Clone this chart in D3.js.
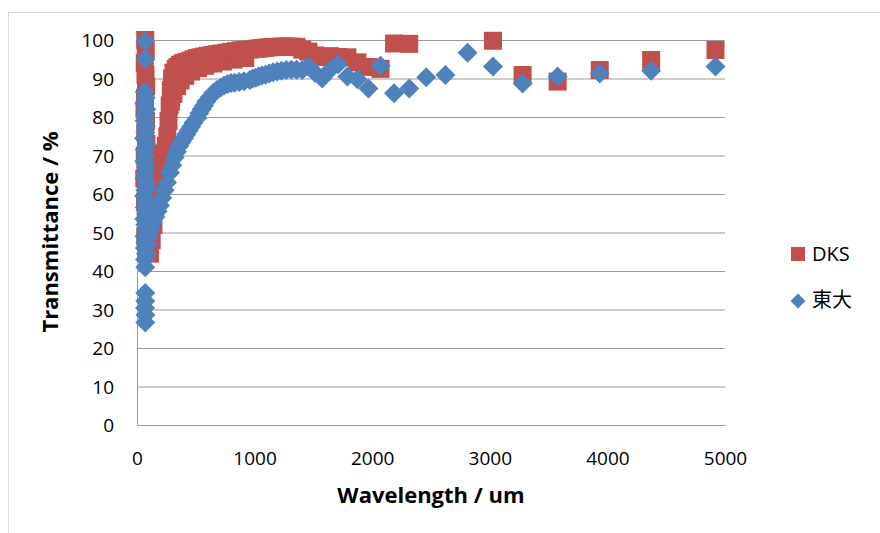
<!DOCTYPE html>
<html>
<head>
<meta charset="utf-8">
<script src="https://cdn.jsdelivr.net/npm/d3@7"></script>
<style>
html, body { margin: 0; padding: 0; background: #fff; }
svg { display: block; font-family: "Open Sans", "Noto Sans CJK JP", sans-serif; }
</style>
</head>
<body>
<div id="chart"></div>
<script>
// DKS series (red squares)
var dksX = [70, 74, 66, 72, 78, 68, 64, 76, 70, 80, 66, 72, 62, 78, 68, 74, 84, 70, 80,
	95, 110, 125, 140, 155, 170, 185, 200, 215, 230, 245, 258, 268, 278, 288, 298, 310, 330, 345,
	290, 310, 340, 370, 410, 460, 520, 580, 650, 730, 820, 920,
	366, 390, 420, 450, 480, 510, 540, 570, 600, 640, 680, 720, 760, 800, 840, 880, 920, 960,
	1009, 1035, 1063, 1093, 1124, 1157, 1192, 1230, 1269, 1312, 1357, 1405, 1457, 1513, 1574,
	1640, 1711, 1789, 1874, 1968, 2071, 2186, 2315, 3027, 3279, 3577, 3935, 4372, 4919];
var dksY = [100, 97, 94, 91, 88, 85, 82, 79, 76, 73, 70, 67, 64, 61, 58, 55, 52, 49, 46,
	45, 44.5, 48, 52, 56, 60, 63, 66, 68.5, 70.5, 72.5, 75, 79, 83, 87, 90, 91.5, 92.5, 93,
	84, 86, 88, 89.5, 90.7, 91.8, 92.7, 93.3, 93.9, 94.4, 94.9, 95.3,
	93.6, 94, 94.3, 94.6, 95, 95.3, 95.5, 95.7, 95.9, 96.1, 96.3, 96.5, 96.7, 96.9, 97.1, 97.3, 97.4, 97.5,
	97.7, 97.8, 97.9, 98, 98.1, 98.2, 98.2, 98.3, 98.3, 98.3, 98.2, 97.5, 97, 96, 95.6,
	95.8, 95.6, 95.5, 94.2, 93, 92.5, 99.1, 99.0, 99.8, 90.9, 89.2, 92.2, 94.8, 97.4];

// 東大 series (blue diamonds)
var todaiX = [70, 72, 66, 74, 62, 78, 68, 64, 76, 70, 60, 80, 66, 72, 62, 76, 68, 64, 82, 70,
	60, 74, 66, 78, 62, 70, 84, 64, 72, 66, 76, 68, 70, 70, 70, 68, 72, 70,
	90, 100, 115, 136, 155, 175, 196, 215, 235, 255, 280, 300, 320, 340, 360, 380, 400, 420,
	440, 460, 480, 510, 530, 550, 570, 590, 620, 650, 680, 710, 740, 770, 800, 830, 870, 910,
	960, 984, 1009, 1035, 1063, 1093, 1124, 1157, 1192, 1230, 1269, 1312, 1357, 1405, 1457,
	1513, 1574, 1640, 1711, 1789, 1874, 1968, 2071, 2186, 2315, 2459, 2623, 2811, 3027, 3279,
	3577, 3935, 4372, 4919];
var todaiY = [99.6, 95.0, 86.5, 85.0, 83.5, 82.0, 80.5, 79.0, 77.5, 76.0, 74.5, 73.0, 71.5, 70.0,
	68.5, 67.0, 65.5, 64.0, 62.5, 61.0, 59.5, 58.0, 56.5, 55.0, 53.5, 52.0, 50.5, 49.0, 47.5,
	46.0, 44.5, 43.0, 41.0, 34.3, 32.2, 30.4, 28.6, 26.6,
	47, 49, 51, 52.5, 54, 55.5, 57, 59, 61, 63, 65.5, 67.5, 69.5, 71, 72.5, 73.5, 74.5, 75.5,
	76.5, 77.5, 78.5, 79.7, 81, 82, 83, 84, 85.2, 86.3, 87, 87.6, 88.2, 88.6, 88.8, 88.9, 89.1, 89.3,
	89.6, 90, 90.2, 90.5, 90.8, 91, 91.3, 91.6, 91.8, 92, 92.2, 92.3, 92.3, 92.2, 93.1,
	91.5, 90, 92.2, 93.7, 90.5, 89.8, 87.4, 93.3, 86.2, 87.4, 90.3, 90.9, 96.7, 93.1, 88.7,
	90.5, 91.3, 92.0, 93.1];

var seriesNames = ['DKS', '東大'];
var seriesColors = ['#C0504D', '#4F81BD'];
var xTicks = [0, 1000, 2000, 3000, 4000, 5000];
var yTicks = [0, 10, 20, 30, 40, 50, 60, 70, 80, 90, 100];
var xTitle = 'Wavelength / um';
var yTitle = 'Transmittance / %';

var W = 880, H = 533;
var plot = { left: 137, right: 725, top: 40, bottom: 425 };

var svg = d3.select('#chart').append('svg')
	.attr('width', W)
	.attr('height', H)
	.attr('viewBox', '0 0 ' + W + ' ' + H);

// chart area border (cut at right and bottom as in the picture)
svg.append('rect')
	.attr('x', 8.5).attr('y', 12.5)
	.attr('width', 1000).attr('height', 1000)
	.attr('fill', 'none')
	.attr('stroke', '#d9d9d9');

var x = d3.scaleLinear().domain([0, 5000]).range([plot.left, plot.right]);
var y = d3.scaleLinear().domain([0, 100]).range([plot.bottom, plot.top]);

// horizontal gridlines
svg.append('g')
	.attr('class', 'grid')
	.attr('transform', 'translate(' + plot.left + ',0)')
	.call(d3.axisLeft(y).tickValues(yTicks.slice(1)).tickSize(-(plot.right - plot.left)).tickFormat(''))
	.call(function(g) {
		g.select('.domain').remove();
		g.selectAll('line').attr('stroke', '#9a9a9a').attr('stroke-width', 1);
	});

// axes
var xAxis = svg.append('g')
	.attr('transform', 'translate(0,' + plot.bottom + ')')
	.call(d3.axisBottom(x).tickValues(xTicks).tickSize(0).tickFormat(d3.format('d')));
var yAxis = svg.append('g')
	.attr('transform', 'translate(' + plot.left + ',0)')
	.call(d3.axisLeft(y).tickValues(yTicks).tickSize(0).tickFormat(d3.format('d')));

[xAxis, yAxis].forEach(function(a) {
	a.attr('font-family', null).attr('font-size', null);
	a.select('.domain').attr('stroke', '#9a9a9a').attr('stroke-width', 1);
	a.selectAll('text').attr('fill', '#000').style('font-size', '19px');
});
xAxis.selectAll('text').attr('y', 33).attr('dy', '0.35em');
yAxis.selectAll('text').attr('x', -23).attr('dy', '0.35em');

// axis titles
svg.append('text')
	.attr('x', (plot.left + plot.right) / 2)
	.attr('y', 495)
	.attr('dy', '0.35em')
	.attr('text-anchor', 'middle')
	.style('font-size', '22px')
	.style('font-weight', 'bold')
	.text(xTitle);
svg.append('text')
	.attr('transform', 'translate(50,232) rotate(-90)')
	.attr('dy', '0.35em')
	.attr('text-anchor', 'middle')
	.style('font-size', '22px')
	.style('font-weight', 'bold')
	.text(yTitle);

function diamond(r) {
	return 'M0,' + (-r) + 'L' + r + ',0L0,' + r + 'L' + (-r) + ',0Z';
}

// DKS squares
var sq = 18;
svg.append('g').attr('class', 'dks')
	.selectAll('rect')
	.data(d3.zip(dksX, dksY))
	.enter()
	.append('rect')
	.attr('x', function(d) { return x(d[0]) - sq / 2; })
	.attr('y', function(d) { return y(d[1]) - sq / 2; })
	.attr('width', sq)
	.attr('height', sq)
	.attr('fill', seriesColors[0]);

// 東大 diamonds
svg.append('g').attr('class', 'todai')
	.selectAll('path')
	.data(d3.zip(todaiX, todaiY))
	.enter()
	.append('path')
	.attr('transform', function(d) { return 'translate(' + x(d[0]) + ',' + y(d[1]) + ')'; })
	.attr('d', diamond(10))
	.attr('fill', seriesColors[1]);

// legend
var legend = svg.append('g').attr('class', 'legend');
legend.append('rect')
	.attr('x', 791).attr('y', 247)
	.attr('width', 14).attr('height', 14)
	.attr('fill', seriesColors[0]);
legend.append('path')
	.attr('transform', 'translate(798,301)')
	.attr('d', diamond(7.5))
	.attr('fill', seriesColors[1]);
legend.selectAll('text')
	.data(seriesNames)
	.enter()
	.append('text')
	.attr('x', 812)
	.attr('y', function(d, i) { return i ? 300 : 254; })
	.attr('dy', '0.35em')
	.style('font-size', '20px')
	.text(function(d) { return d; });
</script>
</body>
</html>
